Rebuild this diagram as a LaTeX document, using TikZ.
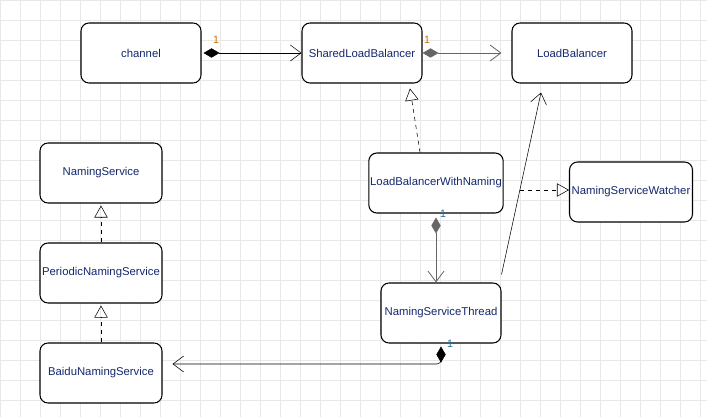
\documentclass[tikz,border=0pt]{standalone}
\usepackage{fontspec}
\setmainfont{Liberation Sans}
\usetikzlibrary{arrows.meta,positioning}
\definecolor{textblue}{RGB}{20,40,110}
\definecolor{multorange}{RGB}{200,110,0}
\definecolor{multblue}{RGB}{30,110,160}
\definecolor{gridgray}{RGB}{232,232,232}
\newlength{\px}
\setlength{\px}{0.75pt}
\tikzset{
    % Define class box and connector styles
    classbox/.style={
        rectangle, draw, thick, fill=white, rounded corners=6pt,
        minimum width=120\px, minimum height=60\px,
        font=\fontsize{8.5}{10}\selectfont, text=textblue, inner sep=1pt
    },
    compose/.style={
        {Diamond[length=12pt,width=7pt]}-{Straight Barb[length=8pt,width=12pt]}
    },
    realize/.style={
        dashed, -{Triangle[open,length=9pt,width=10pt]}
    },
    assoc/.style={
        -{Straight Barb[length=8pt,width=12pt]}
    },
    mult/.style={font=\fontsize{8}{9}\selectfont, inner sep=1pt}
}

\begin{document}
\begin{tikzpicture}[x=\px, y=-\px]
\useasboundingbox (0,0) rectangle (707,417);
\draw[gridgray, step=20\px] (0,0) grid (707,417);

% Top row
\node[classbox] (channel) at (141,53) {channel};
\node[classbox] (shared_lb) at (362,53) {SharedLoadBalancer};
\node[classbox] (load_balancer) at (572,53) {LoadBalancer};

% Naming service hierarchy
\node[classbox, minimum width=122\px] (naming_service) at (101,173) {NamingService};
\node[classbox, minimum width=122\px] (periodic_ns) at (101,273) {PeriodicNamingService};
\node[classbox, minimum width=122\px] (baidu_ns) at (101,373) {BaiduNamingService};

% Naming-aware balancer
\node[classbox] (lb_with_naming) at (436,183) {LoadBalancerWithNaming};
\node[classbox, minimum width=123\px] (ns_watcher) at (631,192) {NamingServiceWatcher};
\node[classbox] (ns_thread) at (441,313) {NamingServiceThread};

% Composition arrows
\draw[compose] ([xshift=2\px]channel.east) -- (shared_lb.west);
\draw[compose, draw=gray!80!black, semithick] (shared_lb.east) -- ([xshift=-10\px]load_balancer.west);
\draw[compose, draw=gray!80!black, semithick] ([yshift=-4\px]lb_with_naming.south) -- (ns_thread.north -| lb_with_naming.south);
\draw[compose, rounded corners=3pt]
    ([yshift=-3\px]ns_thread.south) |- ([xshift=10\px,yshift=9\px]baidu_ns.east);

% Realization arrows
\draw[realize] ([xshift=-16\px]lb_with_naming.north) -- ([xshift=48\px,yshift=-5\px]shared_lb.south);
\draw[realize] ([xshift=16\px,yshift=-7\px]lb_with_naming.east) -- ([yshift=2\px]ns_watcher.west);
\draw[realize] (periodic_ns) -- ([yshift=-2\px]naming_service.south);
\draw[realize] (baidu_ns) -- ([yshift=-2\px]periodic_ns.south);

% Association
\draw[assoc] ([yshift=8\px]ns_thread.north east) -- ([xshift=-31\px,yshift=-9\px]load_balancer.south);

% Multiplicities
\node[mult, text=multorange] at (216,40) {1};
\node[mult, text=multorange] at (427,40) {1};
\node[mult, text=multblue] at (443,214) {1};
\node[mult, text=multblue] at (450,344) {1};

\end{tikzpicture}
\end{document}
